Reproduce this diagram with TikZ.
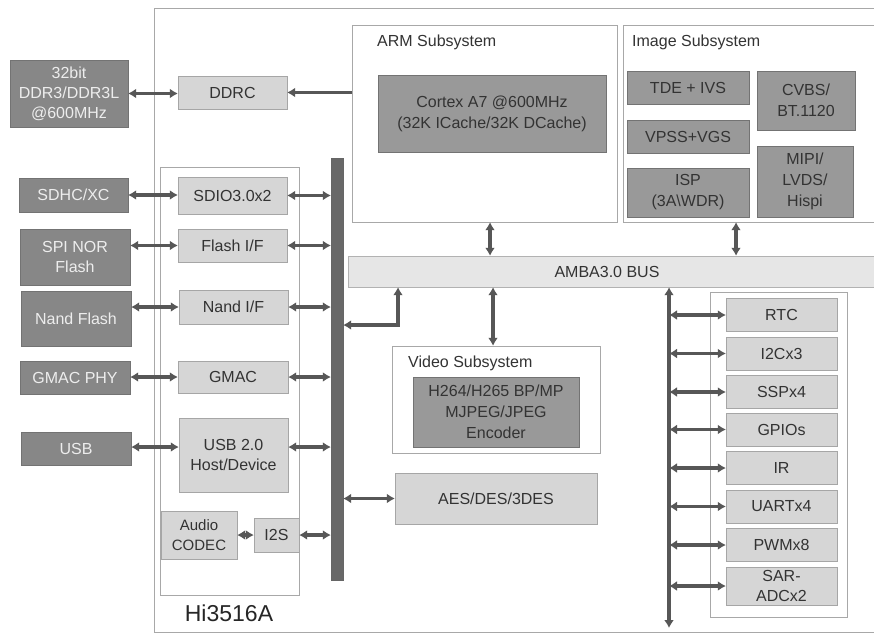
\documentclass[tikz,border=0pt]{standalone}
\usepackage{fontspec}
\setmainfont{Liberation Sans}
\usetikzlibrary{arrows.meta}
\definecolor{darkbox}{HTML}{878787}
\definecolor{corebox}{HTML}{999999}
\definecolor{lightbox}{HTML}{D6D6D6}
\definecolor{busfill}{HTML}{E6E6E6}
\definecolor{framegray}{HTML}{A8A8A8}
\definecolor{wiregray}{HTML}{575757}
\tikzstyle{ext}=[rectangle,draw=black!55,fill=darkbox,text=white!93!black,inner sep=0pt,align=center,font=\fontsize{16}{20}\selectfont]
\tikzstyle{core}=[rectangle,draw=black!55,fill=corebox,text=black!80,inner sep=0pt,align=center,font=\fontsize{16}{21}\selectfont]
\tikzstyle{blk}=[rectangle,draw=black!35,fill=lightbox,text=black!80,inner sep=0pt,align=center,font=\fontsize{16}{20}\selectfont]
\tikzstyle{frame}=[rectangle,draw=framegray,fill=white,inner sep=0pt]
\tikzstyle{sublabel}=[anchor=west,inner sep=0pt,text=black!80,font=\fontsize{16}{20}\selectfont]
\tikzstyle{link}=[{Latex[length=8pt,width=10pt]}-{Latex[length=8pt,width=10pt]},line width=3.2pt,wiregray]

\begin{document}
\begin{tikzpicture}[x=1pt,y=-1pt]
\clip (0,0) rectangle (874,636);
\fill[white] (0,0) rectangle (874,636);

% chip outline and frames
\node[frame,minimum width=746pt,minimum height=624pt] (chip) at (527,320) {};
\node[frame,minimum width=139pt,minimum height=428pt] (lper) at (229.5,381) {};
\node[text=black!85,inner sep=0pt,font=\fontsize{23}{26}\selectfont] (chipname) at (229,613) {Hi3516A};
\node[frame,minimum width=265pt,minimum height=197pt] (arm) at (484.5,123.5) {};
\node[sublabel] (armname) at (377,42) {ARM Subsystem};
\node[frame,minimum width=277pt,minimum height=197pt] (img) at (761.5,123.5) {};
\node[sublabel] (imgname) at (632,42) {Image Subsystem};
\node[frame,minimum width=208pt,minimum height=107pt] (video) at (496,399.5) {};
\node[sublabel] (videoname) at (408,363) {Video Subsystem};
\node[frame,minimum width=137pt,minimum height=325pt] (rper) at (778.5,454.5) {};

% external devices
\node[ext,minimum width=118pt,minimum height=67pt] (ddr) at (69,93.5) {32bit\\DDR3/DDR3L\\@600MHz};
\node[ext,minimum width=109pt,minimum height=34pt] (sdhc) at (73.5,195) {SDHC/XC};
\node[ext,minimum width=110pt,minimum height=56pt] (spinor) at (75,257) {SPI NOR\\Flash};
\node[ext,minimum width=110pt,minimum height=55pt] (nandflash) at (76,318.5) {Nand Flash};
\node[ext,minimum width=110pt,minimum height=33pt] (gmacphy) at (75,377.5) {GMAC PHY};
\node[ext,minimum width=110pt,minimum height=33pt] (usb) at (76,448.5) {USB};

% controllers
\node[blk,minimum width=109pt,minimum height=33pt] (ddrc) at (232.5,92.5) {DDRC};
\node[blk,minimum width=109pt,minimum height=37pt] (sdio) at (232.5,195.5) {SDIO3.0x2};
\node[blk,minimum width=109pt,minimum height=33pt] (flashif) at (232.5,245.5) {Flash I/F};
\node[blk,minimum width=109pt,minimum height=34pt] (nandif) at (233.5,307) {Nand I/F};
\node[blk,minimum width=110pt,minimum height=32pt] (gmac) at (233,377) {GMAC};
\node[blk,minimum width=109pt,minimum height=74pt] (usbctl) at (233.5,455) {USB 2.0\\Host/Device};
\node[blk,minimum width=76pt,minimum height=48pt,font=\fontsize{15}{20}\selectfont] (codec) at (199,535) {Audio\\CODEC};
\node[blk,minimum width=45pt,minimum height=34pt] (i2s) at (276.5,535) {I2S};
\node[draw=black!60,fill=wiregray!90,minimum width=12pt,minimum height=422pt,inner sep=0pt] (bar) at (337,369) {};

% cpu and image blocks
\node[core,minimum width=228pt,minimum height=77pt] (cortex) at (492,113.5) {Cortex A7 @600MHz\\(32K ICache/32K DCache)};
\node[core,minimum width=122pt,minimum height=33pt] (tde) at (688,87.5) {TDE + IVS};
\node[core,minimum width=122pt,minimum height=33pt] (vpss) at (688,136.5) {VPSS+VGS};
\node[core,minimum width=122pt,minimum height=49pt] (isp) at (688,192.5) {ISP\\(3A\textbackslash WDR)};
\node[core,minimum width=98pt,minimum height=59pt] (cvbs) at (806,100.5) {CVBS/\\BT.1120};
\node[core,minimum width=96pt,minimum height=71pt] (mipi) at (805,181.5) {MIPI/\\LVDS/\\Hispi};

% bus
\node[rectangle,draw=black!30,fill=busfill,minimum width=552pt,minimum height=31pt,inner sep=0pt] (amba) at (624,271.5) {};
\node[inner sep=0pt,text=black!80,font=\fontsize{16}{20}\selectfont] (ambaname) at (607,271.5) {AMBA3.0 BUS};

\node[core,minimum width=166pt,minimum height=70pt] (enc) at (496,412) {H264/H265 BP/MP\\MJPEG/JPEG\\Encoder};
\node[blk,minimum width=202pt,minimum height=51pt] (aes) at (496,498.5) {AES/DES/3DES};

% connections
\coordinate (armbus) at (490,0);
\coordinate (imgbus) at (736,0);
\coordinate (vidbus) at (493,0);
\coordinate (lbend) at (398,325);
\coordinate (rbusend) at (669,628);

\draw[link] (ddr.east) -- (ddr.east -| ddrc.west);
\draw[{Latex[length=8pt,width=10pt]}-,line width=3.2pt,wiregray] (ddrc.east) -- (ddrc.east -| arm.west);
\draw[link] (sdhc.east) -- (sdhc.east -| sdio.west);
\draw[link] (spinor.east |- flashif) -- (flashif.west);
\draw[link] (nandflash.east |- nandif) -- (nandif.west);
\draw[link] (gmacphy.east |- gmac) -- (gmac.west);
\draw[link] (usb.east |- 0,447) -- (usbctl.west |- 0,447);
\draw[link] (sdio.east) -- (bar.west |- sdio);
\draw[link] (flashif.east) -- (bar.west |- flashif);
\draw[link] (nandif.east) -- (bar.west |- nandif);
\draw[link] (gmac.east) -- (bar.west |- gmac);
\draw[link] (usbctl.east |- 0,447) -- (bar.west |- 0,447);
\draw[link] (codec.east) -- (i2s.west);
\draw[link] (i2s.east) -- (bar.west |- i2s);

\draw[link] (armbus |- arm.south) -- (armbus |- amba.north);
\draw[link] (imgbus |- img.south) -- (imgbus |- amba.north);
\draw[link] (bar.east |- lbend) -| (lbend |- amba.south);
\draw[link] (vidbus |- amba.south) -- (vidbus |- video.north);
\draw[link] (bar.east |- aes) -- (aes.west);
\draw[link] (rbusend |- amba.south) -- (rbusend);

% low speed peripherals
\foreach \name/\y/\h/\txt in {rtc/315/33/RTC, i2c/353.5/33/I2Cx3, ssp/392/33/SSPx4, gpio/429.5/33/GPIOs, ir/468/33/IR, uart/506.5/33/UARTx4, pwm/545/33/PWMx8, sar/586/38/{SAR-\\ADCx2}}{
  \node[blk,minimum width=111pt,minimum height=\h pt] (\name) at (781.5,\y) {\txt};
  \draw[link] (rbusend |- \name) -- (\name.west);
}

\end{tikzpicture}
\end{document}
